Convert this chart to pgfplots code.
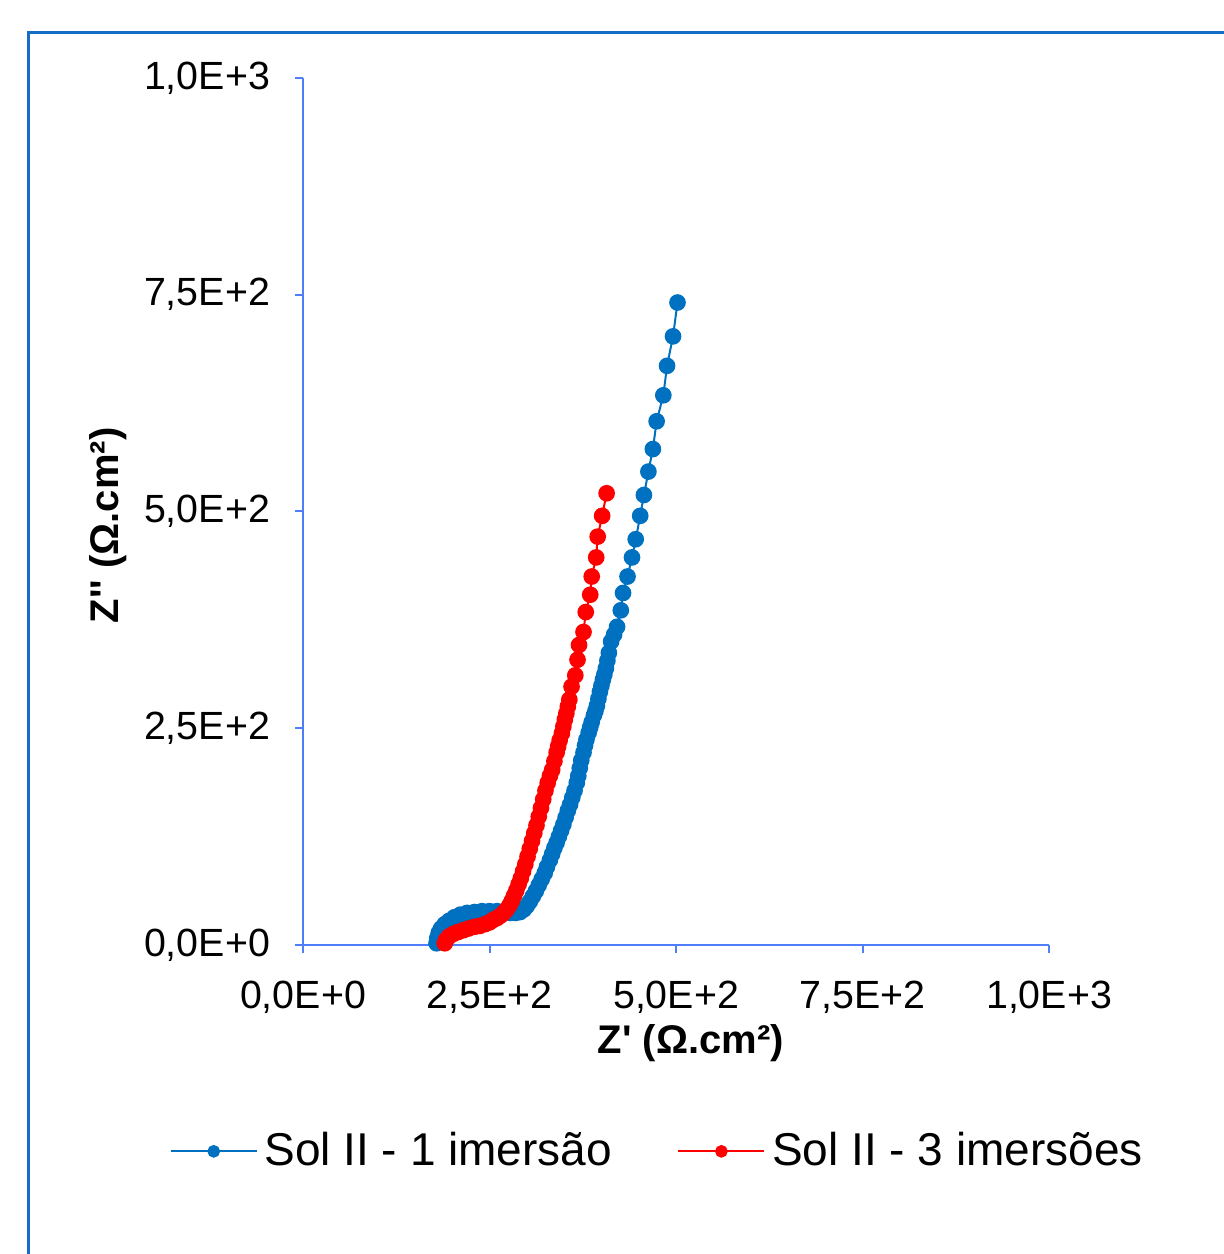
\documentclass[border=0pt]{standalone}
\usepackage{fontspec}
\setmainfont{Liberation Sans}
\usepackage{pgfplots}
\pgfplotsset{compat=1.18}
\definecolor{serblue}{RGB}{0,112,192}
\definecolor{serred}{RGB}{255,0,0}
\definecolor{axisblue}{RGB}{80,125,250}
\definecolor{frameblue}{RGB}{20,110,200}
\begin{document}
\begin{tikzpicture}
\useasboundingbox (0,0) rectangle (366.9pt,376.2pt);
\draw[frameblue, line width=0.9pt] (8.4pt,366.3pt) rectangle (380pt,-10pt);
\begin{axis}[
  at={(90.9pt,92.7pt)}, anchor=south west,
  scale only axis, width=223.8pt, height=260.1pt,
  xmin=0, xmax=1000, ymin=0, ymax=1000,
  axis x line=bottom, axis y line=left,
  axis line style={-, color=axisblue, line width=0.6pt},
  tick style={color=axisblue, line width=0.6pt},
  tick align=outside, major tick length=2.4pt,
  xtick={0,250,500,750,1000},
  ytick={0,250,500,750,1000},
  xticklabels={{0,0E+0},{2,5E+2},{5,0E+2},{7,5E+2},{1,0E+3}},
  yticklabels={{0,0E+0},{2,5E+2},{5,0E+2},{7,5E+2},{1,0E+3}},
  ticklabel style={font=\fontsize{11.8}{13}\selectfont, text=black},
  xticklabel style={yshift=-5pt},
  yticklabel style={xshift=-4pt},
  xlabel={\bfseries Z\textquotesingle\ (Ω.cm²)},
  ylabel={\bfseries Z\textquotesingle\textquotesingle\ (Ω.cm²)},
  every axis x label/.style={at={(axis description cs:0.52,-0.113)}, anchor=center, font=\fontsize{12}{14}\selectfont},
  every axis y label/.style={at={(axis description cs:-0.261,0.484)}, anchor=center, rotate=90, font=\fontsize{12}{14}\selectfont},
  clip=false,
  legend columns=2,
  legend style={at={(0.478,-0.238)}, anchor=center, draw=none, fill=none,
    font=\fontsize{13.8}{16}\selectfont,
    /tikz/every even column/.append style={column sep=17.6pt},
    inner sep=0pt},
  legend image code/.code={\draw[#1, mark size=1.6pt, mark repeat=2, mark phase=2] plot coordinates {(0pt,0pt) (12.9pt,0pt) (25.8pt,0pt)};},
]
\addplot[color=serblue, line width=0.6pt, mark=*, mark size=2.2pt, mark options={solid, fill=serblue, draw=serblue}] coordinates {
(179,2) (180,8) (182,14) (185,19) (190,24) (196,28) (203,32) (211,35) (220,37) (230,38) (240,39) (250,39) (260,39) (270,38) (278,37) (285,37) (291,38) (296,41) (300,45) (304,50) (308,56) (312,62) (316,69) (320,76) (324,83) (327,90) (331,98) (334,105) (337,112) (340,118) (343,125) (346,132) (349,139) (352,147) (355,155) (358,162) (361,170) (364,178) (367,187) (369,195) (371,204) (373,213) (376,222) (378,230) (380,237) (383,245) (385,251) (387,257) (390,265) (392,270) (394,276) (396,284) (398,292) (400,299) (402,306) (404,312) (406,319) (408,328) (410,337) (413,350) (417,358) (421,367) (426,386) (429,406) (435,425) (441,447) (446,468) (452,495) (457,519) (463,546) (469,572) (474,604) (483,634) (488,668) (496,702) (502,741)
};
\addlegendentry{Sol II - 1 imersão}
\addplot[color=serred, line width=0.6pt, mark=*, mark size=2.2pt, mark options={solid, fill=serred, draw=serred}] coordinates {
(190,2) (192,6) (196,10) (202,13) (208,15) (215,17) (222,19) (230,21) (237,22) (244,24) (250,26) (255,29) (260,31) (265,34) (269,37) (273,41) (277,46) (280,51) (283,57) (286,63) (289,70) (292,77) (295,85) (298,93) (301,102) (304,111) (307,120) (310,129) (313,138) (316,148) (319,158) (322,168) (325,178) (328,187) (331,195) (334,202) (337,212) (340,222) (342,229) (344,236) (347,244) (349,252) (351,260) (353,267) (355,275) (357,283) (360,298) (365,311) (368,329) (370,346) (376,361) (379,384) (385,404) (387,425) (393,447) (395,471) (401,495) (407,521)
};
\addlegendentry{Sol II - 3 imersões}
\end{axis}
\end{tikzpicture}
\end{document}
